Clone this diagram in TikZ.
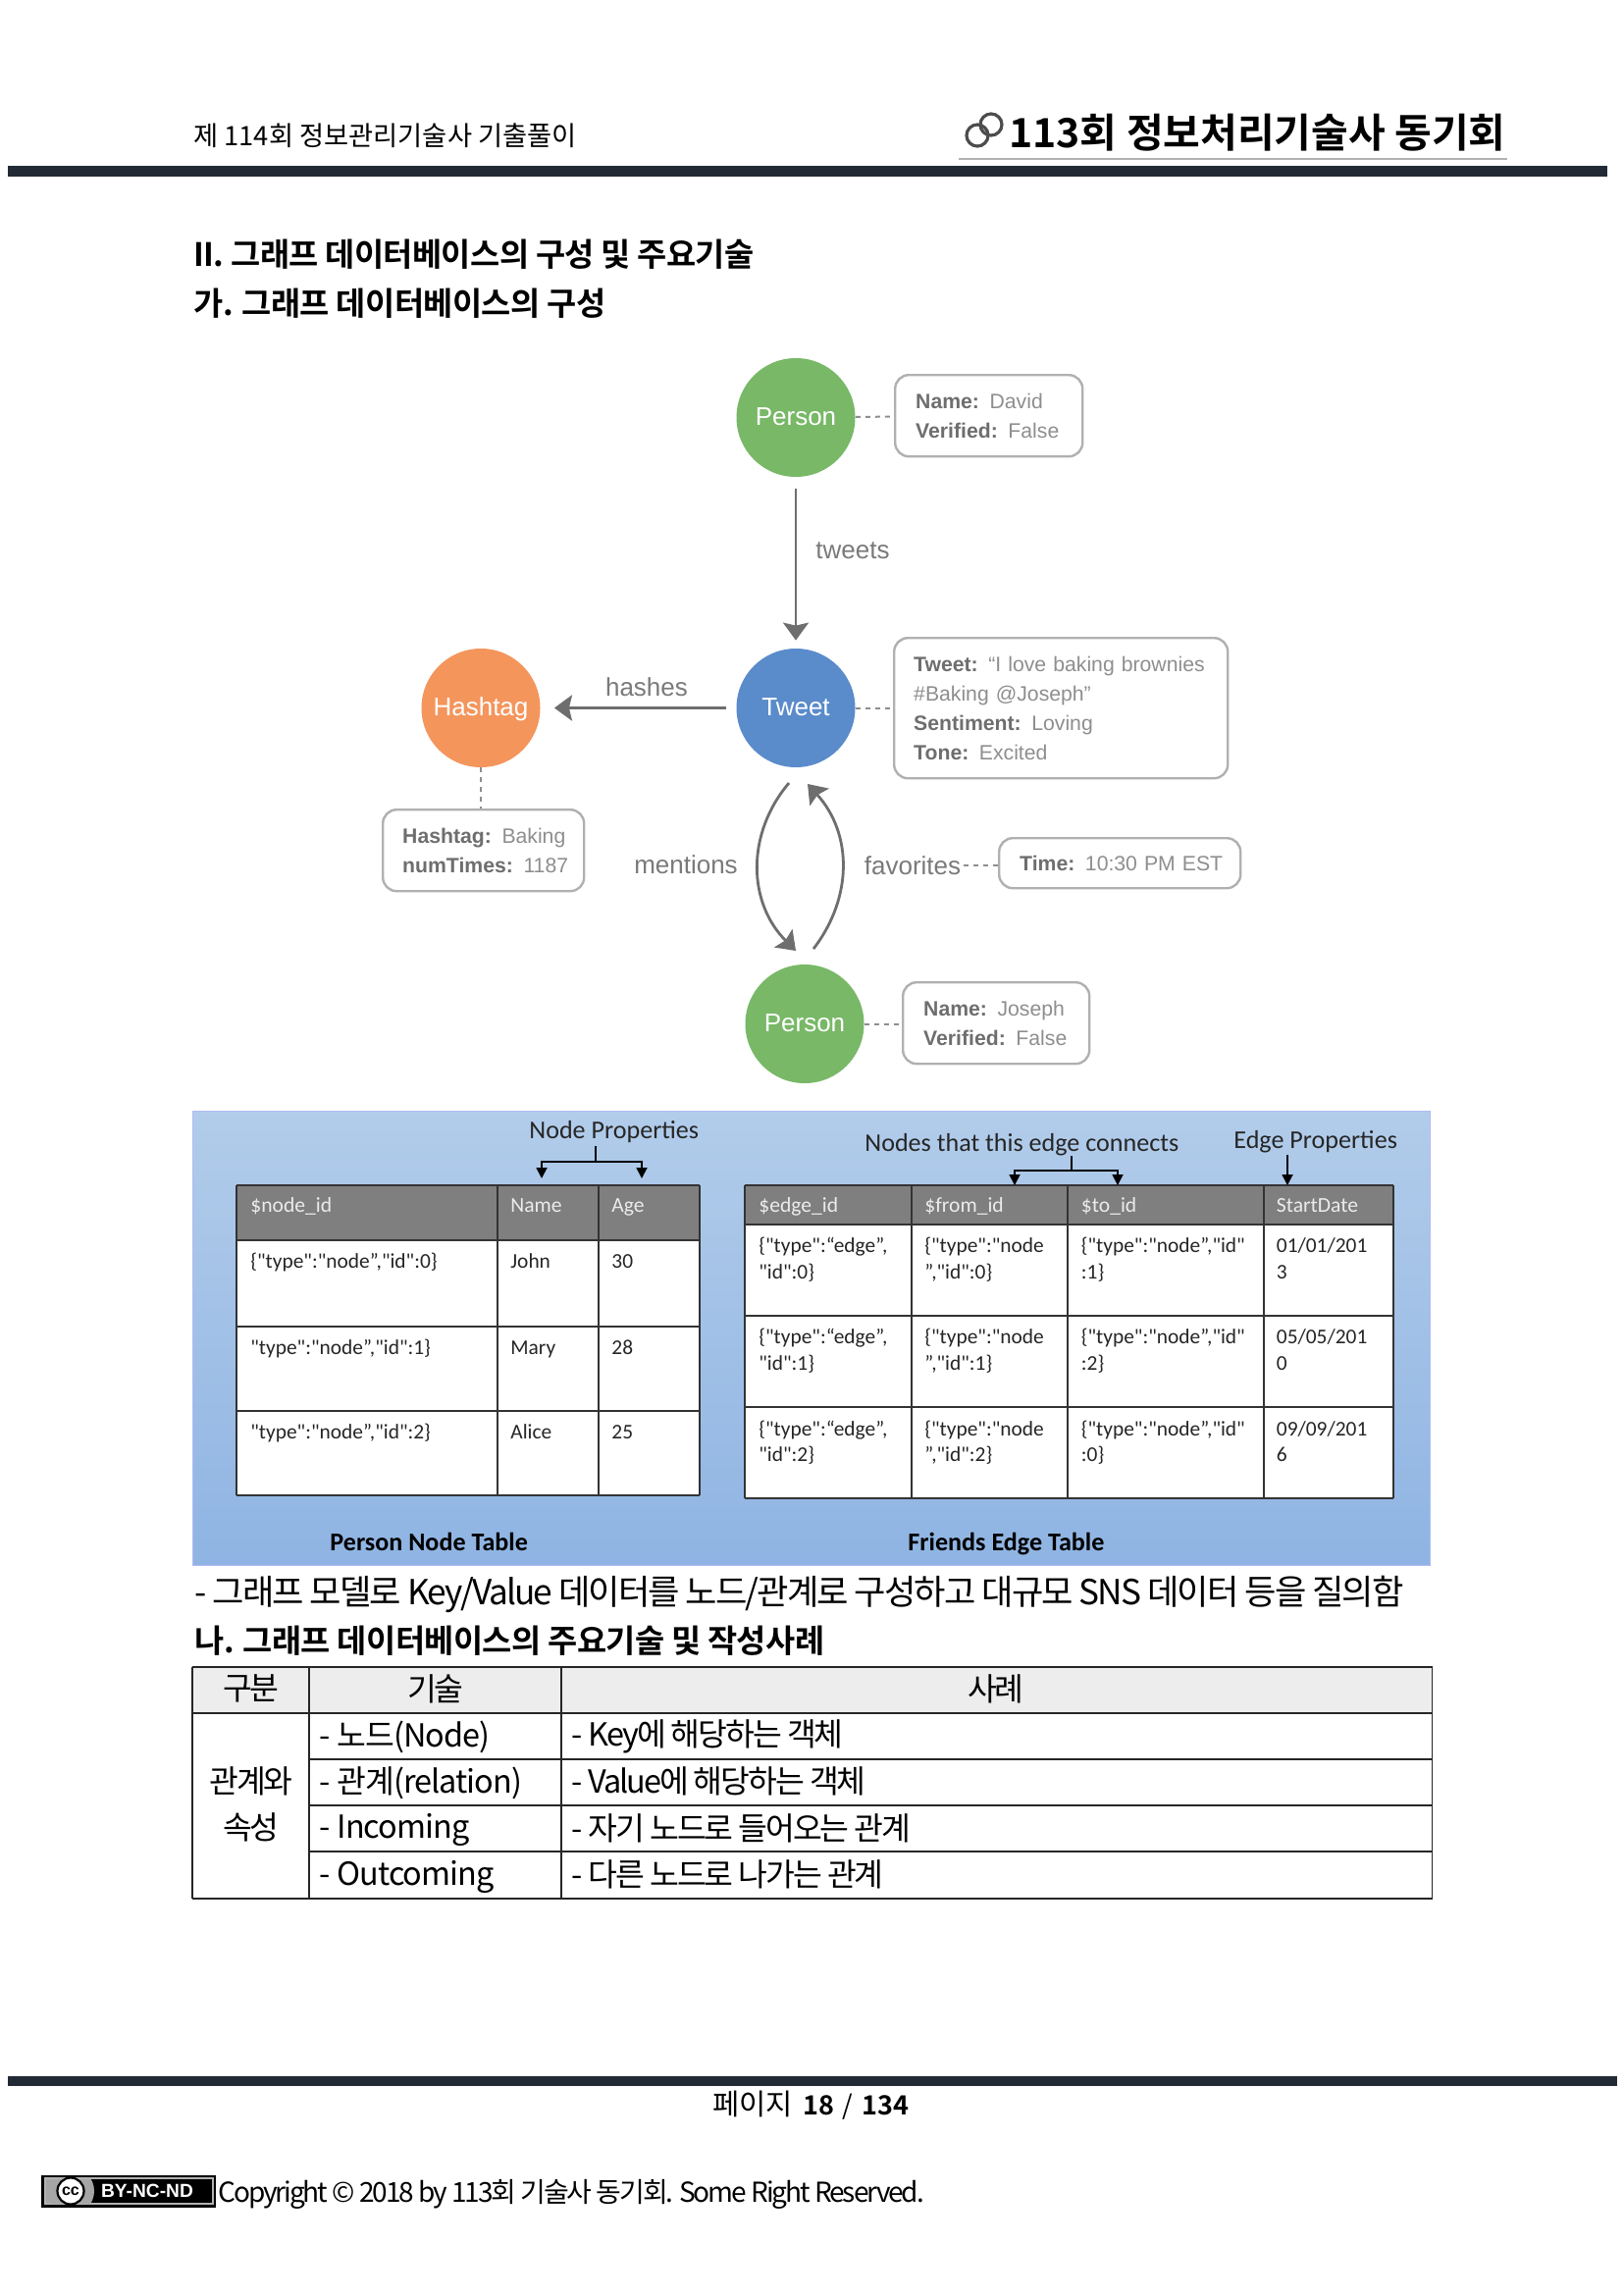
\documentclass[tikz,border=0pt]{standalone}
\usepackage{fontspec}
\setmainfont{Noto Sans CJK KR}[BoldFont={Noto Sans CJK KR Bold}]
\newfontfamily\krt{Noto Sans CJK KR}[LetterSpace=-5.5,BoldFont={Noto Sans CJK KR Bold}]
\newfontfamily\krk{Noto Sans CJK KR}[LetterSpace=-6.5,BoldFont={Noto Sans CJK KR Bold}]
\newfontfamily\krl{Noto Sans CJK KR}[LetterSpace=-3,BoldFont={Noto Sans CJK KR Bold}]
\newfontfamily\krc{Noto Sans CJK KR}[LetterSpace=-7.4,BoldFont={Noto Sans CJK KR Bold}]
\newfontfamily\hb{Noto Sans CJK KR Bold}[LetterSpace=-1.8]
\newfontfamily\arialf{Liberation Sans}
\newfontfamily\calf{Carlito}
\usetikzlibrary{arrows.meta,shapes.geometric}
\newcommand\fs[1]{\fontsize{#1}{#1}\selectfont}
\newcommand\st{\rule[-.2em]{0pt}{1em}}
\newcommand\T[4][]{\node[txt,#1] (#2) at (#3) {\st #4};}
\definecolor{barc}{HTML}{222A35}
\definecolor{arrc}{HTML}{6E6E6E}
\definecolor{boxc}{HTML}{B0B0B0}
\definecolor{keyc}{HTML}{6E6E6E}
\definecolor{valc}{HTML}{8E8E8E}
\definecolor{labc}{HTML}{7A7A7A}
\definecolor{cgreen}{HTML}{78B867}
\definecolor{cblue}{HTML}{5A8BCB}
\definecolor{corange}{HTML}{F4955C}
\definecolor{paneltop}{HTML}{B2CCEA}
\definecolor{panelbot}{HTML}{8FB4E3}
\definecolor{hdrc}{HTML}{7F7F7F}
\definecolor{thc}{HTML}{EDEDED}
\tikzset{
  txt/.style={anchor=west,inner sep=0pt,text=black},
  ctr/.style={anchor=center},
  circ/.style={circle,minimum size=60.5pt,inner sep=0pt,text=white,font=\arialf\fs{13}},
  propbox/.style={draw=boxc,line width=1.2pt,rounded corners=7pt,fill=white,anchor=north west,inner ysep=0pt,inner xsep=0pt,align=left,text=valc,font=\arialf\fontsize{10.6}{15}\selectfont},
  lab/.style={inner sep=0pt,text=labc,font=\arialf\fs{13}},
  dashc/.style={draw=valc,line width=1pt,dash pattern=on 2.5pt off 2.5pt},
  garrow/.style={draw=arrc,line width=1.4pt,-{Stealth[length=9pt,width=13pt,inset=1.5pt]}},
  blk/.style={draw=black,line width=.9pt,-{Triangle[length=5.5pt,width=5.5pt]}},
  blkline/.style={draw=black,line width=.9pt},
  tline/.style={draw=black!80,line width=.9pt},
  celltxt/.style={font=\calf\fs{10.7},text=black!85},
  hdrtxt/.style={font=\calf\fs{10.8},text=white!92!black},
  captxt/.style={font=\calf\fs{13.05},text=black!85},
  kline/.style={draw=black!85,line width=.9pt},
  ktxt/.style={font=\krk\fs{16.2}},
  ltxt/.style={font=\krl\fs{16.2}},
}
\begin{document}
\begin{tikzpicture}[x=0.5pt,y=-0.5pt]
\fill[white] (0,0) rectangle (1654,2339);
\useasboundingbox (0,0) rectangle (1654,2339);
% header
\T[font=\fs{13.65}]{hleft}{197,140}{제 114회 정보관리기술사 기출풀이}
\draw[line width=1.6pt,black!70] (996,138) circle (11);
\draw[line width=1.6pt,black!70] (1010,127) circle (11);
\T[font=\bfseries\fs{20.5}]{hlogo}{1028,137.5}{113회 정보처리기술사 동기회}
\draw[black!30,line width=.6pt] (977,162) -- (1536,162);
\fill[barc] (8,169) rectangle (1638,180);
\T[font=\hb\fs{16.4}]{h1}{197,261.5}{II. 그래프 데이터베이스의 구성 및 주요기술}
\T[font=\hb\fs{16.4}]{h2}{197,311.5}{가. 그래프 데이터베이스의 구성}
% graph
\node[circ,fill=cgreen] (p1) at (811,425.5) {\st Person};
\node[circ,fill=cblue] (tw) at (811,721.5) {\st Tweet};
\node[circ,fill=corange] (ha) at (490,721.5) {\st Hashtag};
\node[circ,fill=cgreen] (p2) at (820,1043.5) {\st Person};
\node[propbox,minimum width=95.5pt,minimum height=41.5pt,text width=95.5pt] (b1) at (911,381) {\hspace*{10.5pt}\textcolor{keyc}{\textbf{Name:}} David\\\hspace*{10.5pt}\textcolor{keyc}{\textbf{Verified:}} False};
\node[propbox,minimum width=170pt,minimum height=71.5pt,text width=170pt] (b2) at (910,649) {\hspace*{10pt}\textcolor{keyc}{\textbf{Tweet:}} “I love baking brownies\\\hspace*{10pt}\#Baking @Joseph”\\\hspace*{10pt}\textcolor{keyc}{\textbf{Sentiment:}} Loving\\\hspace*{10pt}\textcolor{keyc}{\textbf{Tone:}} Excited};
\node[propbox,minimum width=102.5pt,minimum height=41.5pt,text width=102.5pt] (b3) at (389,824) {\hspace*{10pt}\textcolor{keyc}{\textbf{Hashtag:}} Baking\\\hspace*{10pt}\textcolor{keyc}{\textbf{numTimes:}} 1187};
\node[propbox,minimum width=123pt,minimum height=25.5pt,text width=123pt] (b4) at (1017,853) {\hspace*{10.5pt}\textcolor{keyc}{\textbf{Time:}} 10:30 PM EST};
\node[propbox,minimum width=95pt,minimum height=41.5pt,text width=95pt] (b5) at (919,1000) {\hspace*{10.5pt}\textcolor{keyc}{\textbf{Name:}} Joseph\\\hspace*{10.5pt}\textcolor{keyc}{\textbf{Verified:}} False};
\node[lab,anchor=center] (ltw) at (869,561) {tweets};
\node[lab,anchor=center] (lha) at (659,700) {hashes};
\node[lab,anchor=center] (lme) at (699,881) {mentions};
\node[lab,anchor=center] (lfa) at (930,882) {favorites};
\draw[garrow,shorten <=6pt,shorten >=4pt] (p1) -- (tw);
\draw[garrow,line width=1.7pt,shorten <=5pt,shorten >=7pt] (tw) -- (ha);
\coordinate (ms) at (804,798);
\coordinate (me) at (811,969);
\coordinate (fs) at (829,967);
\coordinate (fe) at (823,799);
\draw[garrow] (ms) .. controls (760,850) and (762,920) .. (me);
\draw[garrow] (fs) .. controls (869,915) and (869,850) .. (fe);
\draw[dashc] (p1) -- (b1);
\draw[dashc] (tw.east) -- (tw.east -| b2.west);
\draw[dashc] (ha) -- (ha |- b3.north);
\draw[dashc] (lfa) ++(52,0) -- (lfa -| b4.west);
\draw[dashc] (p2.east) -- (p2.east -| b5.west);
% panel
\shade[top color=paneltop,bottom color=panelbot,draw=none] (196,1132) rectangle (1457,1595);
\draw[draw=paneltop!70!blue!60,line width=.5pt] (196,1132) rectangle (1457,1595);
% node table
\fill[white] (241,1264) rectangle (713,1524);
\fill[hdrc] (241,1208) rectangle (713,1264);
\foreach \yy in {1208,1264,1352,1438,1524} \draw[tline] (241,\yy) -- (713,\yy);
\foreach \xx in {241,507,610,713} \draw[tline] (\xx,1208) -- (\xx,1524);
\T[hdrtxt]{n1}{255,1229}{\$node\_id}
\T[hdrtxt]{n2}{520,1229}{Name}
\T[hdrtxt]{n3}{623,1229}{Age}
\T[celltxt]{n4}{255,1286}{\{"type":"node”,"id":0\}}
\T[celltxt]{n5}{520,1286}{John}
\T[celltxt]{n6}{623,1286}{30}
\T[celltxt]{n7}{255,1374}{"type":"node”,"id":1\}}
\T[celltxt]{n8}{520,1374}{Mary}
\T[celltxt]{n9}{623,1374}{28}
\T[celltxt]{n10}{255,1460}{"type":"node”,"id":2\}}
\T[celltxt]{n11}{520,1460}{Alice}
\T[celltxt]{n12}{623,1460}{25}
\T[captxt]{np}{539,1153}{Node Properties}
\coordinate (npa) at (607,1168);
\coordinate (npb) at (607,1184);
\coordinate (npl) at (552,1184);
\coordinate (npr) at (654,1184);
\coordinate (npl2) at (552,1201);
\coordinate (npr2) at (654,1201);
\draw[blkline] (npa) -- (npb);
\draw[blk] (npb) -- (npl) -- (npl2);
\draw[blk] (npb) -- (npr) -- (npr2);
\T[font=\calf\bfseries\fs{13.05}]{nt}{336,1573}{Person Node Table}
% edge table
\fill[white] (759,1248) rectangle (1420,1527);
\fill[hdrc] (759,1208) rectangle (1420,1248);
\foreach \yy in {1208,1248,1341,1434,1527} \draw[tline] (759,\yy) -- (1420,\yy);
\foreach \xx in {759,929,1088,1288,1420} \draw[tline] (\xx,1208) -- (\xx,1527);
\T[hdrtxt]{e1}{773,1229}{\$edge\_id}
\T[hdrtxt]{e2}{942,1229}{\$from\_id}
\T[hdrtxt]{e3}{1101.5,1229}{\$to\_id}
\T[hdrtxt]{e4}{1300.5,1229}{StartDate}
\T[celltxt]{r1a}{773,1270}{\{"type":“edge”,}
\T[celltxt]{r1b}{773,1297}{"id":0\}}
\T[celltxt]{r1c}{942,1270}{\{"type":"node}
\T[celltxt]{r1d}{942,1297}{”,"id":0\}}
\T[celltxt]{r1e}{1101.5,1270}{\{"type":"node”,"id"}
\T[celltxt]{r1f}{1101.5,1297}{:1\}}
\T[celltxt]{r1g}{1300.5,1270}{01/01/201}
\T[celltxt]{r1h}{1300.5,1297}{3}
\T[celltxt]{r2a}{773,1363}{\{"type":“edge”,}
\T[celltxt]{r2b}{773,1390}{"id":1\}}
\T[celltxt]{r2c}{942,1363}{\{"type":"node}
\T[celltxt]{r2d}{942,1390}{”,"id":1\}}
\T[celltxt]{r2e}{1101.5,1363}{\{"type":"node”,"id"}
\T[celltxt]{r2f}{1101.5,1390}{:2\}}
\T[celltxt]{r2g}{1300.5,1363}{05/05/201}
\T[celltxt]{r2h}{1300.5,1390}{0}
\T[celltxt]{r3a}{773,1457}{\{"type":“edge”,}
\T[celltxt]{r3b}{773,1483}{"id":2\}}
\T[celltxt]{r3c}{942,1457}{\{"type":"node}
\T[celltxt]{r3d}{942,1483}{”,"id":2\}}
\T[celltxt]{r3e}{1101.5,1457}{\{"type":"node”,"id"}
\T[celltxt]{r3f}{1101.5,1483}{:0\}}
\T[celltxt]{r3g}{1300.5,1457}{09/09/201}
\T[celltxt]{r3h}{1300.5,1483}{6}
\T[captxt]{ec}{881,1165.5}{Nodes that this edge connects}
\T[captxt]{ep}{1257,1162.5}{Edge Properties}
\coordinate (eca) at (1092,1178);
\coordinate (ecb) at (1092,1193);
\coordinate (ecl) at (1034,1193);
\coordinate (ecr) at (1139,1193);
\coordinate (ecl2) at (1034,1208);
\coordinate (ecr2) at (1139,1208);
\draw[blkline] (eca) -- (ecb);
\draw[blk] (ecb) -- (ecl) -- (ecl2);
\draw[blk] (ecb) -- (ecr) -- (ecr2);
\coordinate (epa) at (1312,1177);
\coordinate (epb) at (1312,1208);
\draw[blk] (epa) -- (epb);
\T[font=\calf\bfseries\fs{13.05}]{et}{925,1573}{Friends Edge Table}
% text lines
\T[font=\krt\fs{17.6}]{line}{198,1625}{- 그래프 모델로 Key/Value 데이터를 노드/관계로 구성하고 대규모 SNS 데이터 등을 질의함}
\T[font=\hb\fs{16.4}]{h3}{198,1674}{나. 그래프 데이터베이스의 주요기술 및 작성사례}
% bottom table
\fill[thc] (196,1699) rectangle (1459.5,1746);
\foreach \yy in {1699,1746,1935} \draw[kline] (196,\yy) -- (1459.5,\yy);
\foreach \yy in {1793,1840,1887} \draw[kline] (315,\yy) -- (1459.5,\yy);
\foreach \xx in {196,315,572,1459.5} \draw[kline] (\xx,1699) -- (\xx,1935);
\T[ktxt,ctr]{k1}{256,1723}{구분}
\T[ktxt,ctr]{k2}{444,1723}{기술}
\T[ktxt,ctr]{k3}{1015,1723}{사례}
\T[ktxt,ctr]{k4}{256,1817}{관계와}
\T[ktxt,ctr]{k5}{256,1864}{속성}
\T[ltxt]{k6}{325,1770}{-\hspace{3.5pt}노드(Node)}
\T[ltxt]{k7}{325,1817}{-\hspace{3.5pt}관계(relation)}
\T[ltxt]{k8}{325,1865}{-\hspace{3.5pt}Incoming}
\T[ltxt]{k9}{325,1912.5}{-\hspace{3.5pt}Outcoming}
\T[ktxt]{k10}{582,1770}{-\hspace{3pt}Key에 해당하는 객체}
\T[ktxt]{k11}{582,1817}{-\hspace{3pt}Value에 해당하는 객체}
\T[ktxt]{k12}{582,1865}{-\hspace{3pt}자기 노드로 들어오는 관계}
\T[ktxt]{k13}{582,1912.5}{-\hspace{3pt}다른 노드로 나가는 관계}
% footer
\fill[barc] (8,2116) rectangle (1648,2126);
\T[font=\fs{14.8}]{pg}{726,2146}{페이지\hspace{5pt}{\fs{13.5}\textbf{18}\hspace{4.5pt}/\hspace{4.5pt}\textbf{134}}}
\fill[black] (42,2217) rectangle (220,2250);
\fill[black!30] (45,2219) rectangle (218,2247);
\fill[black] (47,2221) rectangle (216,2245);
\begin{scope}
\clip (47,2221) rectangle (216,2245);
\fill[black!35] (47,2221) rectangle (72,2245);
\fill[black!35] (72,2233) circle (24);
\end{scope}
\node[circle,draw=black,fill=white,line width=1.1pt,minimum size=13.5pt,inner sep=0pt,font=\arialf\bfseries\fs{8}] (cc) at (72,2233) {cc};
\node[inner sep=0pt,text=white,font=\arialf\bfseries\fs{9.6}] (bync) at (150,2233) {BY-NC-ND};
\T[font=\krc\fs{14}]{cr}{222,2236}{Copyright © 2018 by 113회 기술사 동기회. Some Right Reserved.}
\end{tikzpicture}
\end{document}
